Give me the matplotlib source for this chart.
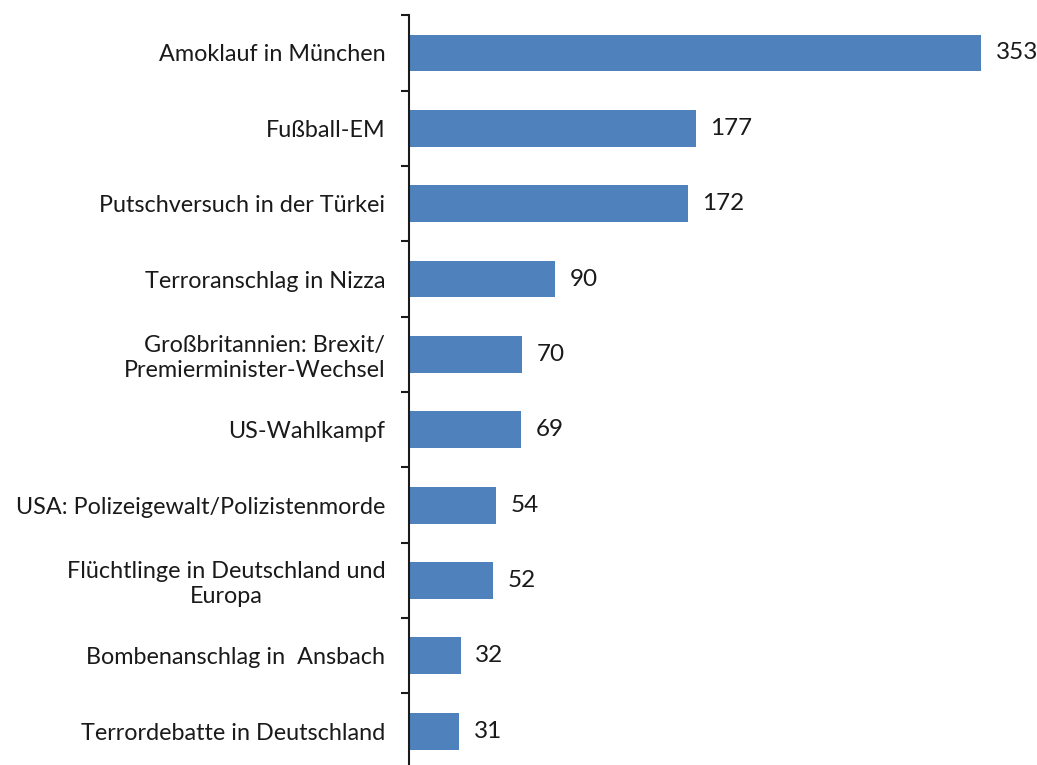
import numpy as np
import matplotlib.pyplot as plt

categories = [
    "Amoklauf in München",
    "Fußball-EM",
    "Putschversuch in der Türkei",
    "Terroranschlag in Nizza",
    "Großbritannien: Brexit/\nPremierminister-Wechsel",
    "US-Wahlkampf",
    "USA: Polizeigewalt/Polizistenmorde",
    "Flüchtlinge in Deutschland und\nEuropa",
    "Bombenanschlag in  Ansbach",
    "Terrordebatte in Deutschland",
]
values = [353, 177, 172, 90, 70, 69, 54, 52, 32, 31]

plt.rcParams['font.family'] = ['Lato', 'DejaVu Sans']

fig = plt.figure(figsize=(10.37, 7.65), dpi=100)
ax = fig.add_axes([409 / 1037, -0.005, 1 - 409 / 1037, 0.985])

y = np.arange(len(categories))
ax.barh(y, values, height=0.49, color='#4F81BD')

# value labels right of each bar
for yi, v in zip(y, values):
    ax.text(v + 9, yi, str(v), va='center', ha='left', fontsize=17.5, color='#1a1a1a')

ax.set_ylim(len(categories) - 0.5, -0.5)
ax.set_xlim(0, 387.6)

ax.set_yticks(y)
ax.set_yticklabels(categories, fontsize=16.8, color='#1a1a1a')
ax.tick_params(axis='y', which='major', length=0, pad=17)
ax.set_yticks(np.arange(-0.5, len(categories), 1), minor=True)
ax.tick_params(axis='y', which='minor', length=6, width=1.5, color='#1a1a1a')

for lbl in ax.get_yticklabels():
    if lbl.get_text().startswith("Großbritannien"):
        lbl.set_multialignment('right')
    elif lbl.get_text().startswith("Flüchtlinge"):
        lbl.set_multialignment('center')

ax.set_xticks([])
for side in ['top', 'right', 'bottom']:
    ax.spines[side].set_visible(False)
ax.spines['left'].set_linewidth(1.5)
ax.spines['left'].set_color('#1a1a1a')

fig.savefig('out.png', dpi=100)
